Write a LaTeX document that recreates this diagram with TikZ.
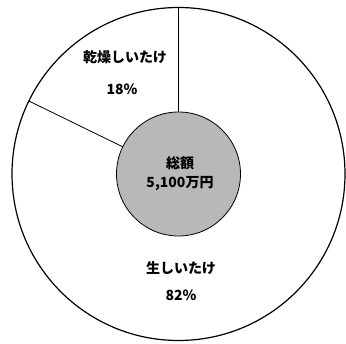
\documentclass[tikz,border=0pt]{standalone}
\usepackage{fontspec}
\setmainfont{Noto Sans CJK JP}
\usetikzlibrary{positioning,calc}

\tikzset{
	ring/.style={circle,draw,inner sep=0pt,outer sep=0pt},
	slicetext/.style={font=\fontsize{14}{16}\selectfont\bfseries,inner sep=1pt}
}

\begin{document}
\begin{tikzpicture}[x=1pt,y=-1pt,every node/.style={minimum size=0pt}]
	\useasboundingbox (0,0) rectangle (346,344);
	
	% centre of the whole chart
	\coordinate (c) at (178.5,174);
	
	% outer ring and the grey total in the middle
	\node[ring,line width=1.2pt,minimum size=333pt] (pie) at (c) {};
	\node[ring,line width=0.8pt,fill=black!28,minimum size=124pt] (total) at (c) {};
	
	% slice borders: 18% from 90 deg counter clockwise
	\draw[line width=0.8pt] (total.90) -- (pie.90);
	\draw[line width=0.8pt] (total.154.8) -- (pie.154.8);
	
	% labels
	\node[slicetext] (dried) at (125,57) {乾燥しいたけ};
	\node[slicetext] (driedpct) at (122,89) {18\%};
	\node[slicetext] (sumname) at (180,163) {総額};
	\node[slicetext] (sumval) at (180,184) {5,100万円};
	\node[slicetext] (fresh) at (181,268) {生しいたけ};
	\node[slicetext] (freshpct) at (181,295) {82\%};
	
\end{tikzpicture}
\end{document}
